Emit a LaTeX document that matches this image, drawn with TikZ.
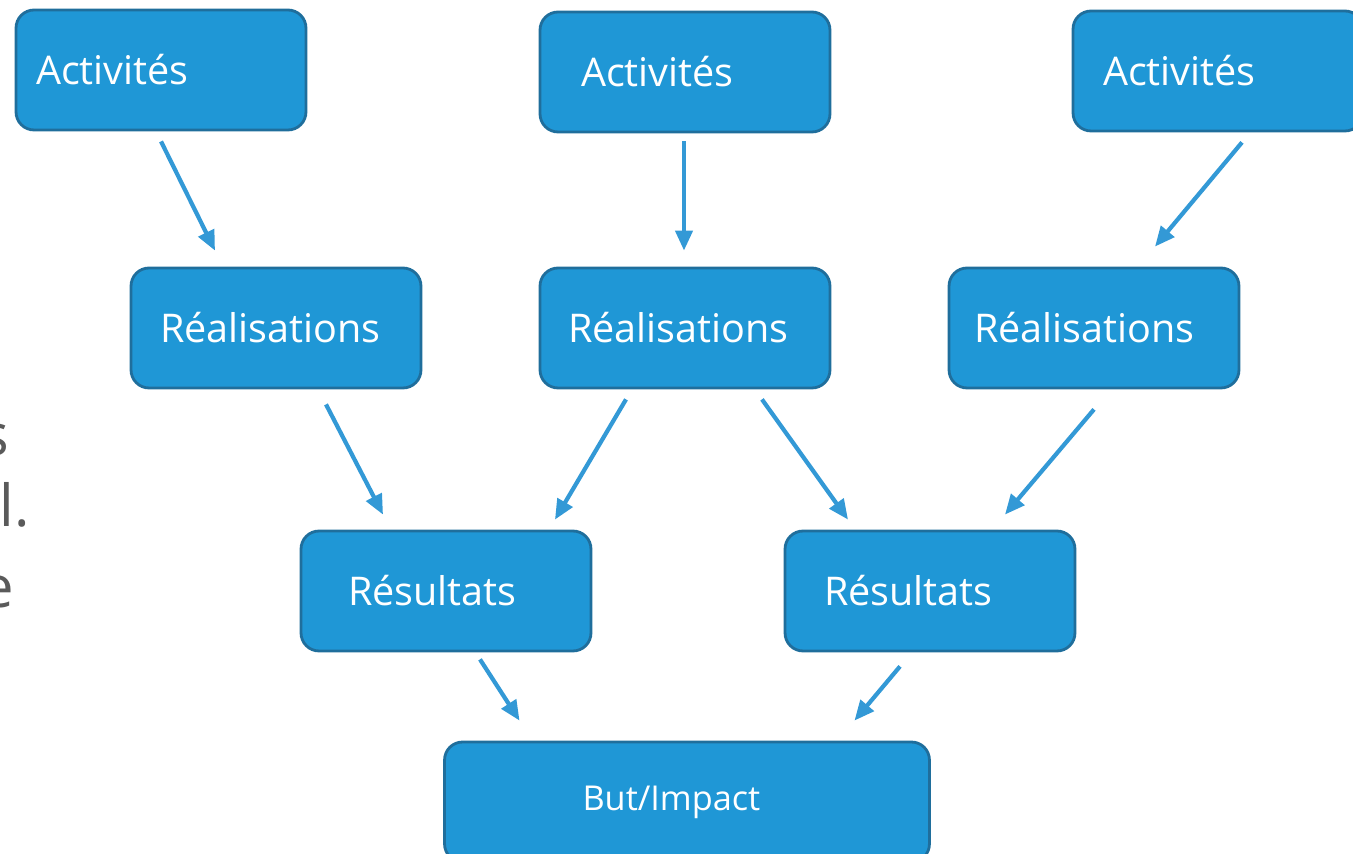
\documentclass[tikz,border=0pt]{standalone}
\usepackage{fontspec}
\setmainfont{Open Sans}
\usepackage{xcolor}
\usetikzlibrary{arrows.meta}
\definecolor{boxblue}{HTML}{1F97D6}
\definecolor{boxedge}{HTML}{1F6E9C}
\definecolor{arrowblue}{HTML}{3399D6}
\definecolor{fraggray}{HTML}{5A5A5A}

\begin{document}
\begin{tikzpicture}[
  x=0.02cm, y=-0.02cm,
  box/.style={draw=boxedge,line width=1.6pt,fill=boxblue,rounded corners=0.36cm,
              minimum width=5.8cm,minimum height=2.4cm,text width=5.8cm,
              inner xsep=0pt,align=left,text=white,
              font=\fontsize{22.5}{26}\selectfont},
  pad/.style={execute at begin node={\hspace*{#1}}},
  arr/.style={-{Triangle[length=0.4cm,width=0.34cm]},line width=2.4pt,arrowblue},
  frag/.style={inner sep=0pt,anchor=base west,text=fraggray,
               font=\fontsize{33}{38}\selectfont}
]
  \useasboundingbox (0,0) rectangle (1353,854);

  % fragments of a cut-off text at the left edge
  \node[frag] (frag1) at (-19,456) {s};
  \node[frag] (frag2) at (-33,527) {al.};
  \node[frag] (frag3) at (-19,608) {e};

  % activities
  \node[box,pad=0.4cm] (act1) at (161,70) {Activités};
  \node[box,pad=0.82cm] (act2) at (685,72) {Activités};
  \node[box,pad=0.6cm] (act3) at (1218,71) {Activités};

  % outputs
  \node[box,pad=0.58cm] (real1) at (276,328) {Réalisations};
  \node[box,pad=0.56cm] (real2) at (685,328) {Réalisations};
  \node[box,pad=0.5cm] (real3) at (1094,328) {Réalisations};

  % results
  \node[box,pad=0.94cm] (res1) at (446,591) {Résultats};
  \node[box,pad=0.78cm] (res2) at (930,591) {Résultats};

  % goal
  \node[box,pad=2.76cm,minimum width=9.7cm,text width=9.7cm,
        font=\fontsize{19.5}{23}\selectfont] (goal) at (687,802) {But/Impact};

  \draw[arr] ([yshift=-0.2cm]act1.south) -- ([xshift=-1.22cm,yshift=0.32cm]real1.north);
  \draw[arr] ([xshift=-0.02cm,yshift=-0.16cm]act2.south) -- ([xshift=-0.02cm,yshift=0.32cm]real2.north);
  \draw[arr] ([xshift=0.48cm,yshift=-0.2cm]act3.south) -- ([xshift=1.22cm,yshift=0.4cm]real3.north);

  \draw[arr] ([xshift=1.0cm,yshift=-0.3cm]real1.south) -- ([xshift=-1.26cm,yshift=0.3cm]res1.north);
  \draw[arr] ([xshift=-1.18cm,yshift=-0.2cm]real2.south) -- ([xshift=2.18cm,yshift=0.2cm]res1.north);
  \draw[arr] ([xshift=1.54cm,yshift=-0.2cm]real2.south) -- ([xshift=-1.64cm,yshift=0.2cm]res2.north);
  \draw[arr] ([yshift=-0.4cm]real3.south) -- ([xshift=1.5cm,yshift=0.3cm]res2.north);

  \draw[arr] ([xshift=0.68cm,yshift=-0.14cm]res1.south) -- ([xshift=-3.35cm,yshift=0.4cm]goal.north);
  \draw[arr] ([xshift=-0.6cm,yshift=-0.28cm]res2.south) -- ([xshift=3.35cm,yshift=0.4cm]goal.north);
\end{tikzpicture}
\end{document}
